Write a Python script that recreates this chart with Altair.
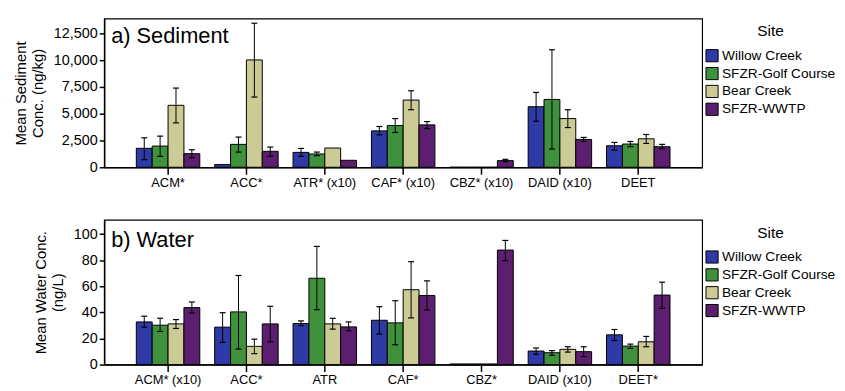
import altair as alt
import pandas as pd

sites = ["Willow Creek", "SFZR-Golf Course", "Bear Creek", "SFZR-WWTP"]
site_colors = ["#2e3aa6", "#3f913c", "#cccb95", "#5c1f70"]

# ---- Sediment (ng/kg) ----
sed_compounds = ["ACM*", "ACC*", "ATR* (x10)", "CAF* (x10)", "CBZ* (x10)", "DAID (x10)", "DEET"]
sed_willow    = [1770, 250, 1390, 3400, 0, 5660, 2010]
sed_willow_lo = [710, None, 1020, 3030, None, 4300, 1610]
sed_willow_hi = [2750, None, 1760, 3810, None, 6990, 2320]
sed_golf      = [1980, 2140, 1240, 3900, 0, 6340, 2170]
sed_golf_lo   = [1020, 1420, 1080, 3250, None, 1700, 1920]
sed_golf_hi   = [2910, 2820, 1420, 4550, None, 10980, 2410]
sed_bear      = [5790, 10030, 1800, 6280, 0, 4550, 2660]
sed_bear_lo   = [4150, 6560, None, 5380, None, 3710, 2230]
sed_bear_hi   = [7400, 13460, None, 7150, None, 5380, 3060]
sed_wwtp      = [1270, 1490, 650, 3960, 620, 2600, 1920]
sed_wwtp_lo   = [900, 1020, None, 3620, 530, 2410, 1730]
sed_wwtp_hi   = [1640, 1890, None, 4270, 740, 2790, 2140]

# ---- Water (ng/L) ----
wat_compounds = ["ACM* (x10)", "ACC*", "ATR", "CAF*", "CBZ*", "DAID (x10)", "DEET*"]
wat_willow    = [32.7, 28.7, 31.5, 34.0, 0.5, 10.4, 22.8]
wat_willow_lo = [28.7, 17.0, 29.9, 23.4, None, 7.9, 18.5]
wat_willow_hi = [37.1, 39.8, 33.5, 44.4, None, 12.7, 26.9]
wat_golf      = [30.2, 40.4, 66.2, 32.0, 0.5, 9.1, 14.2]
wat_golf_lo   = [25.4, 11.9, 42.1, 15.2, None, 7.1, 12.4]
wat_golf_hi   = [35.5, 68.3, 90.6, 49.0, None, 10.7, 15.7]
wat_bear      = [31.2, 14.0, 31.2, 57.4, 0.5, 11.7, 17.5]
wat_bear_lo   = [27.7, 8.4, 27.2, 35.8, None, 9.6, 13.7]
wat_bear_hi   = [34.5, 19.5, 35.5, 78.9, None, 13.7, 21.6]
wat_wwtp      = [43.7, 31.2, 28.9, 53.0, 87.8, 9.9, 53.3]
wat_wwtp_lo   = [39.6, 17.5, 25.9, 41.9, 79.7, 6.1, 43.1]
wat_wwtp_hi   = [48.0, 44.7, 32.7, 64.2, 95.2, 13.7, 63.2]


def build_df(compounds, means, los, his):
    rows = []
    for s, m, lo, hi in zip(sites, means, los, his):
        for c, v, l, h in zip(compounds, m, lo, hi):
            rows.append({"compound": c, "site": s, "mean": v, "lo": l, "hi": h})
    return pd.DataFrame(rows)


def panel(compounds, df, ymax, tick_vals, ytitle, label, height, label_y, fmt, tsize):
    x = alt.X("compound:N", sort=compounds, title=None,
              scale=alt.Scale(paddingInner=0.19, paddingOuter=0.41),
              axis=alt.Axis(labelAngle=0, labelFontSize=13, tickSize=7,
                            labelPadding=2))
    xo = alt.XOffset("site:N", sort=sites, scale=alt.Scale(paddingInner=0, paddingOuter=0))
    yscale = alt.Scale(domain=[0, ymax], nice=False)
    yaxis = alt.Axis(values=tick_vals, format=fmt, labelFontSize=14.5,
                     tickSize=5, labelPadding=2, titleFontSize=tsize,
                     titleFontWeight="normal", titlePadding=8,
                     grid=False, labelOverlap=False, labelFlush=False)
    color = alt.Color("site:N", sort=sites, title="Site",
                      scale=alt.Scale(domain=sites, range=site_colors),
                      legend=alt.Legend(orient="none", legendX=606, legendY=6,
                                        titleAnchor="middle", titleFontSize=15.5,
                                        titleFontWeight="normal", labelFontSize=13.8,
                                        symbolType="square", symbolSize=150,
                                        symbolStrokeColor="black", symbolStrokeWidth=1,
                                        symbolOpacity=1, rowPadding=0,
                                        titlePadding=9, labelOffset=3))
    base = alt.Chart(df)
    bars = base.mark_bar(stroke="black", strokeWidth=1, opacity=1).encode(
        x=x, xOffset=xo,
        y=alt.Y("mean:Q", scale=yscale, title=ytitle, axis=yaxis),
        color=color,
    )
    err_df = df.dropna(subset=["lo", "hi"])
    rules = alt.Chart(err_df).mark_rule(color="black", strokeWidth=1).encode(
        x=x, xOffset=xo, y=alt.Y("lo:Q", scale=yscale, title=ytitle, axis=yaxis),
        y2="hi:Q")
    caps = alt.Chart(err_df).transform_fold(["lo", "hi"], as_=["end", "val"]).mark_tick(
        color="black", thickness=1.2, size=6, opacity=1).encode(
        x=x, xOffset=xo, y=alt.Y("val:Q", scale=yscale, title=ytitle, axis=yaxis))
    title = alt.Chart(pd.DataFrame({"t": [label]})).mark_text(
        align="left", baseline="alphabetic", fontSize=22, color="black",
        font="Liberation Sans").encode(
        x=alt.value(7), y=alt.value(label_y), text="t:N")
    return alt.layer(bars, rules, caps, title).properties(width=603, height=height)


sed_df = build_df(sed_compounds,
                  [sed_willow, sed_golf, sed_bear, sed_wwtp],
                  [sed_willow_lo, sed_golf_lo, sed_bear_lo, sed_wwtp_lo],
                  [sed_willow_hi, sed_golf_hi, sed_bear_hi, sed_wwtp_hi])
wat_df = build_df(wat_compounds,
                  [wat_willow, wat_golf, wat_bear, wat_wwtp],
                  [wat_willow_lo, wat_golf_lo, wat_bear_lo, wat_wwtp_lo],
                  [wat_willow_hi, wat_golf_hi, wat_bear_hi, wat_wwtp_hi])

p1 = panel(sed_compounds, sed_df, 13900, [0, 2500, 5000, 7500, 10000, 12500],
           ["Mean Sediment", "Conc. (ng/kg)"], "a) Sediment", 150, 25, ",d", 15)
p2 = panel(wat_compounds, wat_df, 111, [0, 20, 40, 60, 80, 100],
           ["Mean Water Conc.", "(ng/L)"], "b) Water", 146, 27, "d", 15)

chart = alt.vconcat(p1, p2, spacing=29).resolve_scale(
    color="independent").resolve_legend(color="independent").properties(
    padding={"left": 5, "top": 8, "right": 0, "bottom": 0}
).configure(font="Liberation Sans").configure_view(
    stroke="black", strokeWidth=1.2
).configure_axis(
    domainColor="black", domainWidth=1.5, tickColor="black", tickWidth=1.5,
    labelColor="black", titleColor="black", labelFont="Liberation Sans",
    titleFont="Liberation Sans"
).configure_legend(labelColor="black", titleColor="black",
                   labelFont="Liberation Sans", titleFont="Liberation Sans")

chart.save("out.html", embed_options={"renderer": "svg", "actions": False})
